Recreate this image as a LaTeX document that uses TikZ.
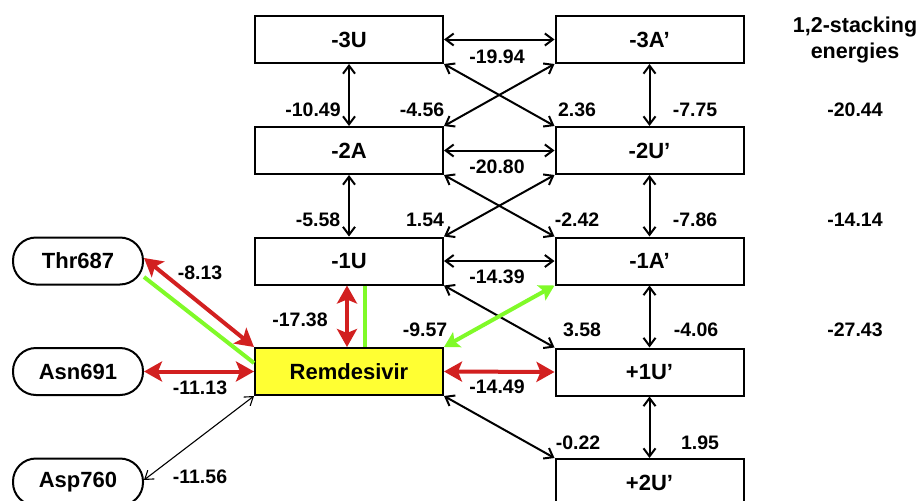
\documentclass[tikz,border=0pt]{standalone}
\usepackage{fontspec}
\setmainfont{Liberation Sans}
\usetikzlibrary{arrows.meta,calc}
\definecolor{rred}{RGB}{210,32,32}
\definecolor{lgreen}{RGB}{128,250,40}
\definecolor{ryellow}{RGB}{255,255,51}
\begin{document}
\begin{tikzpicture}[x=1pt,y=-1pt,
  box/.style={draw,line width=2pt,minimum width=188pt,minimum height=47pt,inner sep=0pt,font=\fontsize{22}{24}\selectfont\bfseries},
  pill/.style={draw,line width=2pt,minimum width=130pt,minimum height=47pt,inner sep=0pt,rounded corners=23pt,font=\fontsize{22}{24}\selectfont\bfseries},
  lab/.style={inner sep=0pt,font=\fontsize{19.5}{21}\selectfont\bfseries},
  ttl/.style={inner sep=0pt,font=\fontsize{21.5}{23}\selectfont\bfseries},
  barr/.style={line width=2pt,{Straight Barb[length=8pt,width=12pt]}-{Straight Barb[length=8pt,width=12pt]}},
  tarr/.style={line width=1.1pt,{Straight Barb[length=8pt,width=11pt]}-{Straight Barb[length=8pt,width=11pt]}},
  rarr/.style={rred,line width=4pt,{Stealth[length=18pt,width=20pt,inset=4pt]}-{Stealth[length=18pt,width=20pt,inset=4pt]}},
  garr/.style={lgreen,line width=4pt,{Stealth[length=15pt,width=17pt,inset=3pt]}-{Stealth[length=15pt,width=17pt,inset=3pt]}},
  gline/.style={lgreen,line width=4pt}]
\useasboundingbox (0,0) rectangle (922,501);
\clip (0,0) rectangle (922,501);
\fill[white] (0,0) rectangle (922,501);
% boxes
\node[box] (m3U) at (349,39.5) {-3U};
\node[box] (m3A) at (649.5,39.5) {-3A’};
\node[box] (m2A) at (349,150.5) {-2A};
\node[box] (m2U) at (649.5,150.5) {-2U’};
\node[box] (m1U) at (349,261) {-1U};
\node[box] (m1A) at (649.5,261) {-1A’};
\node[box,fill=ryellow] (rem) at (349,371.5) {Remdesivir};
\node[box] (p1U) at (649.5,372) {+1U’};
\node[box] (p2U) at (649.5,482.5) {+2U’};
\node[pill] (thr) at (78,261) {Thr687};
\node[pill] (asn) at (78,371.5) {Asn691};
\node[pill] (asp) at (78,482) {Asp760};
% black arrows
\draw[barr] (m3U.east) -- (m3A.west);
\draw[barr] (m3U.south) -- (m2A.north);
\draw[barr] (m3A.south) -- (m2U.north);
\draw[barr] (m3U.south east) -- (m2U.north west);
\draw[barr] (m3A.south west) -- (m2A.north east);
\draw[barr] (m2A.east) -- (m2U.west);
\draw[barr] (m2A.south) -- (m1U.north);
\draw[barr] (m2U.south) -- (m1A.north);
\draw[barr] (m2A.south east) -- (m1A.north west);
\draw[barr] (m2U.south west) -- (m1U.north east);
\draw[barr] (m1U.east) -- (m1A.west);
\draw[barr] (m1U.south east) -- (p1U.north west);
\draw[barr] (m1A.south) -- (p1U.north);
\draw[barr] (rem.south east) -- (p2U.north west);
\draw[barr] (p1U.south) -- (p2U.north);
\draw[tarr] ([yshift=2pt]asp.east) -- (rem.south west);
% green lines
\draw[gline] ([yshift=-16pt]thr.east) -- ([yshift=8.5pt]rem.west);
\draw[gline] ([xshift=16pt]m1U.south) -- ([xshift=16pt]rem.north);
\draw[garr] (m1A.south west) -- (rem.north east);
% red arrows
\draw[rarr] ([yshift=3pt]thr.east) -- (rem.north west);
\draw[rarr] (asn.east) -- (rem.west);
\draw[rarr] ([xshift=-2pt]m1U.south) -- ([xshift=-2pt]rem.north);
\draw[rarr] (rem.east) -- (p1U.west);
% labels
\node[lab] (l1) at (497,57) {-19.94};
\node[lab] (l2) at (313,110) {-10.49};
\node[lab] (l3) at (422,110) {-4.56};
\node[lab] (l4) at (577,110) {2.36};
\node[lab] (l5) at (695,110) {-7.75};
\node[lab] (l6) at (497,167) {-20.80};
\node[lab] (l7) at (318,220) {-5.58};
\node[lab] (l8) at (425,220) {1.54};
\node[lab] (l9) at (577,220) {-2.42};
\node[lab] (l10) at (695,220) {-7.86};
\node[lab] (l11) at (497,277) {-14.39};
\node[lab] (l12) at (582,330) {3.58};
\node[lab] (l13) at (696,330) {-4.06};
\node[lab] (l14) at (855,330) {-27.43};
\node[lab] (l15) at (497,387) {-14.49};
\node[lab] (l16) at (578,443) {-0.22};
\node[lab] (l17) at (700,443) {1.95};
\node[lab] (l18) at (200,273) {-8.13};
\node[lab] (l19) at (300,320) {-17.38};
\node[lab] (l20) at (425,330) {-9.57};
\node[lab] (l21) at (200,388) {-11.13};
\node[lab] (l22) at (200,477) {-11.56};
\node[ttl] (t1) at (855,27) {1,2-stacking};
\node[ttl] (t2) at (855,53) {energies};
\node[lab] (l23) at (855,110) {-20.44};
\node[lab] (l24) at (855,220) {-14.14};
\end{tikzpicture}
\end{document}
